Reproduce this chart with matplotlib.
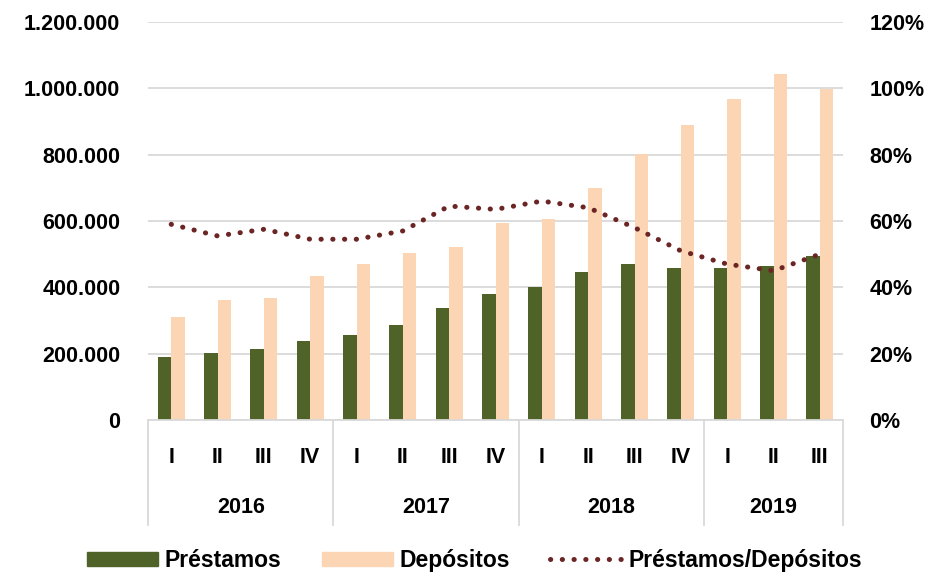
import matplotlib.pyplot as plt
import matplotlib.transforms as mtransforms
from matplotlib.patches import Patch
from matplotlib.lines import Line2D
from matplotlib.ticker import FuncFormatter
import numpy as np

plt.rcParams['font.family'] = ['Liberation Sans', 'DejaVu Sans']

# Data
years = ['2016', '2017', '2018', '2019']
quarters = ['I', 'II', 'III', 'IV', 'I', 'II', 'III', 'IV',
            'I', 'II', 'III', 'IV', 'I', 'II', 'III']
prestamos = [190000, 201000, 213000, 237000, 256000, 287000, 337000, 379000,
             402000, 447000, 471000, 459000, 459000, 464000, 495000]
depositos = [311000, 361000, 367000, 434000, 471000, 503000, 521000, 595000,
             606000, 699000, 802000, 888000, 968000, 1042000, 998000]
ratio = [59, 55.5, 57.5, 54.5, 54.5, 57, 64.5, 63.5,
         66, 64, 58, 51, 47, 45, 50]

green = '#4F6228'
peach = '#FCD5B4'
maroon = '#6B2525'
grid = '#D9D9D9'
fs = 15.5
dots = (0, (0.05, 2.3))

fig = plt.figure(figsize=(9.34, 5.74), dpi=100)
ax = fig.add_axes([0.1585, 0.2683, 0.7441, 0.6934])
x = np.arange(len(quarters))
w = 0.29

ax.bar(x - w / 2, prestamos, width=w, color=green, zorder=2)
ax.bar(x + w / 2, depositos, width=w, color=peach, zorder=2)

ax.set_xlim(-0.5, len(quarters) - 0.5)
ax.set_ylim(0, 1200000)
ax.set_yticks(np.arange(0, 1200001, 200000))
ax.yaxis.set_major_formatter(FuncFormatter(lambda v, p: f'{int(v):,}'.replace(',', '.')))
ax.yaxis.grid(True, color=grid, linewidth=1.3)
ax.set_axisbelow(True)
for s in ['top', 'right', 'left']:
    ax.spines[s].set_visible(False)
ax.spines['bottom'].set_color(grid)
ax.spines['bottom'].set_linewidth(1.3)
ax.tick_params(axis='y', length=0, pad=20, labelsize=fs)
ax.set_xticks([])
for lbl in ax.get_yticklabels():
    lbl.set_fontweight('bold')

ax2 = ax.twinx()
ax2.plot(x, ratio, color=maroon, linewidth=3.6, linestyle=dots,
         dash_capstyle='round', zorder=3)
ax2.set_ylim(0, 120)
ax2.set_yticks(np.arange(0, 121, 20))
ax2.yaxis.set_major_formatter(FuncFormatter(lambda v, p: f'{int(v)}%'))
for s in ['top', 'right', 'left', 'bottom']:
    ax2.spines[s].set_visible(False)
ax2.tick_params(axis='y', length=0, pad=19, labelsize=fs)
for lbl in ax2.get_yticklabels():
    lbl.set_fontweight('bold')

# Multi-level category axis
trans = mtransforms.blended_transform_factory(ax.transData, ax.transAxes)
bounds = [-0.5, 3.5, 7.5, 11.5, len(quarters) - 0.5]
for b in bounds:
    ax.plot([b, b], [0, -0.264], transform=trans, color=grid, linewidth=1.3,
            clip_on=False)
for i, q in enumerate(quarters):
    ax.text(i, -0.093, q, transform=trans, ha='center', va='center',
            fontsize=fs, fontweight='bold')
for k, yr in enumerate(years):
    ax.text((bounds[k] + bounds[k + 1]) / 2, -0.221, yr, transform=trans,
            ha='center', va='center', fontsize=fs, fontweight='bold')

handles = [Patch(color=green), Patch(color=peach),
           Line2D([0], [0], color=maroon, linewidth=3.6, linestyle=dots,
                  dash_capstyle='round')]
fig.legend(handles, ['Préstamos', 'Depósitos', 'Préstamos/Depósitos'],
           loc='center', bbox_to_anchor=(0.508, 0.024), ncol=3, frameon=False,
           handlelength=3.1, handleheight=0.55, columnspacing=1.75, handletextpad=0.3,
           prop={'size': 16.5, 'weight': 'bold'})

fig.savefig('out.png', dpi=100)
